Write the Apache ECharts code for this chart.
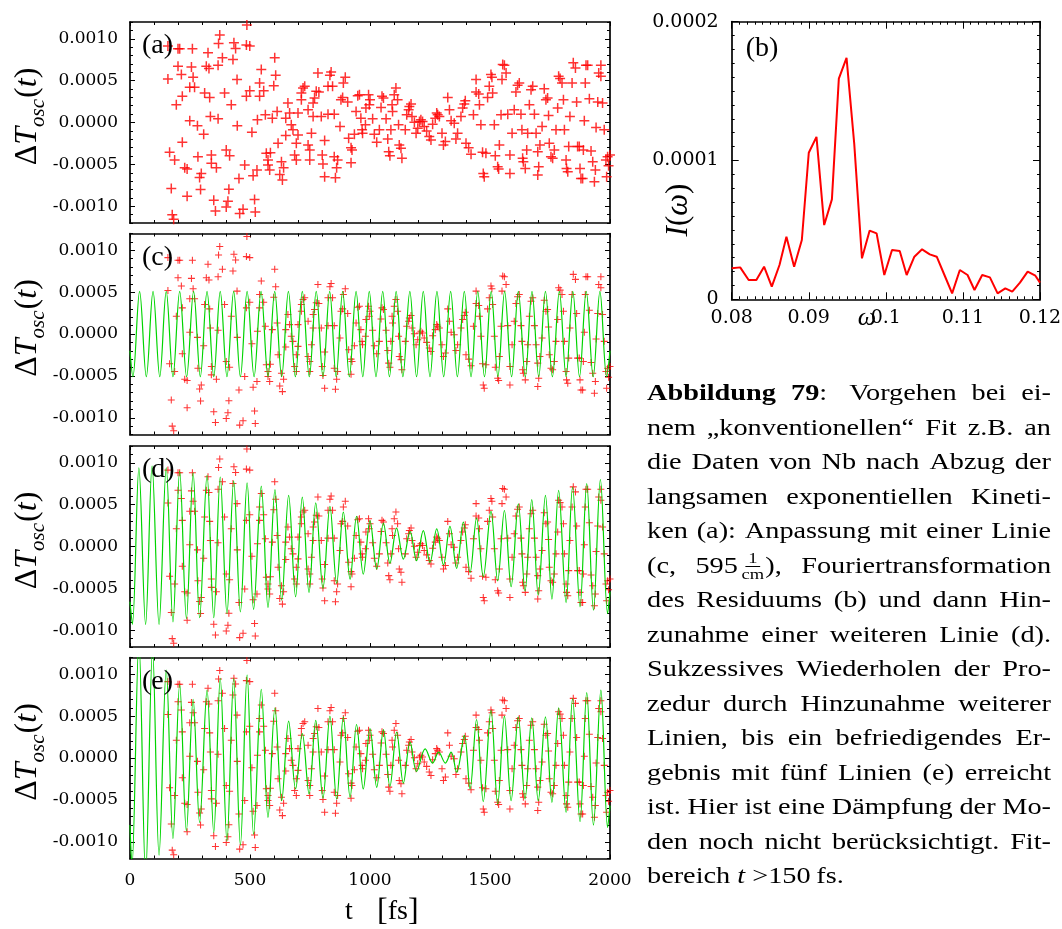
<!DOCTYPE html>
<html><head><meta charset="utf-8">
<script src="https://cdn.jsdelivr.net/npm/echarts@6/dist/echarts.min.js"></script>
<style>
html,body{margin:0;padding:0;background:#fff;}
#chart{position:absolute;left:0;top:0;width:1062px;height:929px;}
#caption{position:absolute;left:647px;top:376px;width:328.5px;font-family:'Liberation Serif','Times New Roman',serif;font-size:23px;color:#000;transform:scaleX(1.23);transform-origin:0 0;}
#caption .ln{display:flex;justify-content:space-between;align-items:baseline;height:34.5px;line-height:34.5px;white-space:nowrap;}
#caption .last{height:34.5px;line-height:34.5px;white-space:nowrap;}
.fr{display:inline-flex;flex-direction:column;align-items:center;font-size:15px;line-height:13px;vertical-align:middle;margin:0 1px 0 3px;position:relative;top:-1px;}
.fr .n{border-bottom:1.4px solid #000;padding:0 2px 1px 2px;}
.fr .d{padding-top:1px;}
</style>
</head><body>
<div id="chart"></div>
<div id="caption"></div>
<script>
// ---------- data ----------
// measured points Delta T_osc(t): [t (fs), value]
const points = [
[487,11.64e-4],[374,10.44e-4],[369,9.44e-4],[433,9.52e-4],[440,8.84e-4],[485,9.24e-4],[499,9.12e-4],[158,9.12e-4],[200,8.8e-4],[207,8.8e-4],
[260,8.8e-4],[325,8.32e-4],[385,7.72e-4],[429,7.52e-4],[603,7.72e-4],[200,6.72e-4],[256,6.64e-4],[318,6.72e-4],[329,6.44e-4],[367,6.84e-4],
[214,5.72e-4],[263,5.4e-4],[158,5.2e-4],[446,5.12e-4],[547,6.32e-4],[607,5.64e-4],[540,4.72e-4],[599,4.4e-4],[557,3.8e-4],[499,3.8e-4],
[249,4.2e-4],[269,4.2e-4],[311,3.52e-4],[332,3.0e-4],[218,3.12e-4],[394,3.52e-4],[485,3.12e-4],[540,3.12e-4],[193,2.12e-4],[422,2.12e-4],
[658,2.32e-4],[721,4.12e-4],[728,4.32e-4],[714,3.52e-4],[714,2.72e-4],[769,2.92e-4],[763,2.32e-4],[776,3.72e-4],[787,3.64e-4],[783,5.92e-4],
[825,4.32e-4],[335,0.72e-4],[367,0.44e-4],[249,0.2e-4],[531,0.32e-4],[564,0.92e-4],[593,0.52e-4],[613,1.32e-4],[649,0.52e-4],[665,1.12e-4],
[700,1.12e-4],[742,1.52e-4],[763,0.72e-4],[797,0.72e-4],[825,1.0e-4],[281,-0.4e-4],[307,-1.4e-4],[447,-0.4e-4],[508,-1.16e-4],[672,-0.28e-4],
[679,-0.88e-4],[649,-1.56e-4],[700,-1.48e-4],[756,-1.28e-4],[811,-2.16e-4],[218,-2.36e-4],[617,-2.48e-4],[693,-2.48e-4],[742,-2.68e-4],[749,-3.28e-4],
[165,-3.56e-4],[186,-4.48e-4],[283,-4.08e-4],[339,-3.88e-4],[401,-3.28e-4],[415,-3.96e-4],[568,-3.68e-4],[585,-3.6e-4],[575,-4.48e-4],[575,-5.08e-4],
[631,-4.68e-4],[686,-3.88e-4],[693,-4.48e-4],[749,-4.48e-4],[801,-3.88e-4],[804,-4.96e-4],[478,-5.08e-4],[228,-5.4e-4],[238,-5.56e-4],[297,-6.08e-4],
[290,-6.56e-4],[360,-5.4e-4],[339,-4.88e-4],[454,-6.68e-4],[513,-6.36e-4],[529,-5.68e-4],[582,-5.68e-4],[624,-6.2e-4],[635,-6.88e-4],[640,-5.4e-4],
[811,-6.48e-4],[172,-7.88e-4],[238,-8.8e-4],[294,-8.0e-4],[412,-7.96e-4],[349,-9.28e-4],[356,-10.56e-4],[408,-9.4e-4],[401,-10.08e-4],[519,-9.2e-4],
[471,-10.36e-4],[457,-10.88e-4],[522,-10.68e-4],[176,-11.0e-4],[182,-11.56e-4],
[838,6.04e-4],[833,5.64e-4],[844,4.32e-4],[851,1.0e-4],[875,-0.48e-4],[851,-4.08e-4],[865,-4.48e-4],[861,-5.4e-4],[856,-6.6e-4],[897,5.4e-4],
[889,4.72e-4],[886,3.0e-4],[879,2.72e-4],[907,2.44e-4],[911,-1.88e-4],[921,-3.0e-4],[925,-3.28e-4],[921,-4.8e-4],[935,-1.4e-4],[942,1.32e-4],
[949,3.2e-4],[956,3.32e-4],[962,0.52e-4],[967,-0.88e-4],[969,-1.28e-4],[981,-0.28e-4],[983,1.72e-4],[994,3.32e-4],[1000,2.72e-4],[997,2.12e-4],
[1011,0.44e-4],[1018,-1.4e-4],[1028,-2.36e-4],[1039,-0.88e-4],[1046,1.8e-4],[1050,3.12e-4],[1056,2.92e-4],[1067,0.44e-4],[1074,-1.96e-4],[1078,-3.48e-4],
[1083,-3.96e-4],[1087,-0.88e-4],[1094,1.32e-4],[1092,2.12e-4],[1101,3.32e-4],[1108,4.12e-4],[1115,2.72e-4],[1119,-0.28e-4],[1122,-2.68e-4],[1129,-3.08e-4],
[1133,-4.28e-4],[1147,-0.88e-4],[1153,0.92e-4],[1161,1.52e-4],[1164,1.92e-4],[1171,2.2e-4],[1175,0.72e-4],[1185,0.04e-4],[1192,-1.28e-4],[1199,-0.68e-4],
[1206,0.12e-4],[1212,0.32e-4],[1219,0.12e-4],[1226,-0.48e-4],[1236,-1.0e-4],[1247,-1.68e-4],[1254,-2.08e-4],[1261,-0.2e-4],[1272,0.52e-4],[1278,1.12e-4],
[1282,0.92e-4],[1289,0.72e-4],[1300,-1.28e-4],[1306,-2.68e-4],[1314,-2.28e-4],[1324,3.0e-4],[1331,1.52e-4],[1338,0.2e-4],[1351,-0.08e-4],[1358,-1.96e-4],
[1365,-1.28e-4],[1379,0.72e-4],[1386,1.72e-4],[1393,2.2e-4],[1397,2.6e-4],[1400,-2.48e-4],[1411,-3.0e-4],[1421,-3.8e-4],[1431,0.92e-4],[1442,5.12e-4],
[1442,3.64e-4],[1453,3.4e-4],[1456,2.12e-4],[1462,-0.28e-4],[1469,-3.56e-4],[1483,-3.68e-4],[1472,-6.08e-4],[1476,-6.48e-4],[1490,3.0e-4],[1497,4.32e-4],
[1504,5.72e-4],[1508,5.4e-4],[1511,3.52e-4],[1518,-0.28e-4],[1522,-3.96e-4],[1532,-5.28e-4],[1536,-5.56e-4],[1539,-2.68e-4],[1546,0.92e-4],[1550,5.12e-4],
[1553,6.92e-4],[1560,6.84e-4],[1567,5.92e-4],[1574,1.0e-4],[1583,-3.88e-4],[1583,-6.08e-4],[1592,-1.28e-4],[1601,1.52e-4],[1608,3.64e-4],[1615,4.44e-4],
[1622,4.72e-4],[1629,1.0e-4],[1633,-0.88e-4],[1636,-4.28e-4],[1639,-4.68e-4],[1647,-5.48e-4],[1653,-3.28e-4],[1657,-1.28e-4],[1664,2.12e-4],[1671,3.92e-4],
[1678,4.32e-4],[1685,1.0e-4],[1692,-1.28e-4],[1699,-3.48e-4],[1703,-5.28e-4],[1699,-6.28e-4],[1708,-2.68e-4],[1717,-0.48e-4],[1726,4.04e-4],[1733,2.72e-4],
[1740,2.92e-4],[1744,0.84e-4],[1747,-2.48e-4],[1754,-4.08e-4],[1761,-4.28e-4],[1768,-3.28e-4],[1775,-0.88e-4],[1782,1.72e-4],[1786,5.52e-4],[1792,5.24e-4],
[1800,4.72e-4],[1806,2.72e-4],[1810,-0.88e-4],[1817,-4.48e-4],[1819,-5.48e-4],[1824,-5.88e-4],[1828,-2.88e-4],[1833,0.72e-4],[1842,4.72e-4],[1847,7.12e-4],
[1856,6.52e-4],[1861,2.44e-4],[1865,-2.88e-4],[1872,-2.88e-4],[1875,-5.48e-4],[1879,-6.68e-4],[1886,-6.68e-4],[1889,-3.28e-4],[1893,0.2e-4],[1897,4.72e-4],
[1900,6.84e-4],[1907,6.84e-4],[1914,2.84e-4],[1921,-3.4e-4],[1928,-4.68e-4],[1935,-7.08e-4],[1939,-5.68e-4],[1942,-0.6e-4],[1949,2.44e-4],[1953,5.92e-4],
[1962,5.52e-4],[1962,6.84e-4],[1969,2.32e-4],[1976,-0.88e-4],[1983,-4.48e-4],[1990,-4.08e-4],[1986,-6.48e-4],[1994,-5.16e-4],[2000,-3.88e-4]
];

// fit curves, given by their turning points [t, value]
const fitC = [
[0,-2.0e-4],[12,-5.1e-4],[40,5.1e-4],[68,-5.1e-4],[96,5.1e-4],[124,-5.1e-4],[151,5.1e-4],[179,-5.1e-4],[207,5.1e-4],[236,-5.1e-4],
[265,5.1e-4],[293,-5.1e-4],[321,5.1e-4],[349,-5.1e-4],[376,5.1e-4],[404,-5.1e-4],[432,5.1e-4],[460,-5.1e-4],[488,5.1e-4],[517,-5.1e-4],
[546,5.1e-4],[575,-5.1e-4],[603,5.1e-4],[632,-5.1e-4],[660,5.1e-4],[689,-5.1e-4],[718,5.1e-4],[747,-5.1e-4],[776,5.1e-4],[804,-5.1e-4],
[832,5.1e-4],[859,-5.1e-4],[886,5.1e-4],[914,-5.1e-4],[942,5.1e-4],[970,-5.1e-4],[997,5.1e-4],[1025,-5.1e-4],[1053,5.1e-4],[1081,-5.1e-4],
[1109,5.1e-4],[1137,-5.1e-4],[1166,5.1e-4],[1194,-5.1e-4],[1222,5.1e-4],[1250,-5.1e-4],[1279,5.1e-4],[1307,-5.1e-4],[1336,5.1e-4],[1364,-5.1e-4],
[1393,5.1e-4],[1421,-5.1e-4],[1449,5.1e-4],[1477,-5.1e-4],[1505,5.1e-4],[1533,-5.1e-4],[1561,5.1e-4],[1590,-5.1e-4],[1618,5.1e-4],[1647,-5.1e-4],
[1675,5.1e-4],[1703,-5.1e-4],[1731,5.1e-4],[1760,-5.1e-4],[1789,5.1e-4],[1817,-5.1e-4],[1845,5.1e-4],[1873,-5.1e-4],[1901,5.1e-4],[1930,-5.1e-4],
[1958,5.1e-4],[1986,-5.1e-4],[2000,-2.0e-4]
];
const fitD = [
[0,-6.6e-4],[10,-9.3e-4],[37,9.4e-4],[65,-9.3e-4],[92,9.6e-4],[121,-9.3e-4],[151,9.4e-4],[179,-9.0e-4],[207,9.0e-4],[235,-8.6e-4],
[263,8.8e-4],[290,-8.5e-4],[321,8.5e-4],[349,-8.5e-4],[376,8.3e-4],[404,-8.0e-4],[432,7.8e-4],[460,-7.8e-4],[488,7.6e-4],[515,-7.5e-4],
[547,7.2e-4],[575,-7.3e-4],[604,6.8e-4],[632,-6.4e-4],[661,6.1e-4],[690,-6.0e-4],[718,5.9e-4],[746,-5.5e-4],[774,5.2e-4],[804,-5.0e-4],
[833,4.8e-4],[861,-4.4e-4],[889,4.1e-4],[917,-3.9e-4],[944,3.6e-4],[972,-3.3e-4],[1000,3.1e-4],[1028,-2.7e-4],[1056,2.8e-4],[1083,-2.0e-4],
[1111,2.2e-4],[1139,-1.5e-4],[1167,1.8e-4],[1194,-1.7e-4],[1222,1.9e-4],[1250,-1.9e-4],[1278,2.1e-4],[1306,-2.2e-4],[1333,2.4e-4],[1361,-2.6e-4],
[1389,2.9e-4],[1417,-3.1e-4],[1444,3.4e-4],[1472,-3.6e-4],[1504,4.2e-4],[1532,-4.1e-4],[1560,4.3e-4],[1588,-4.8e-4],[1618,5.1e-4],[1646,-5.3e-4],
[1674,5.6e-4],[1701,-5.8e-4],[1731,6.1e-4],[1758,-6.3e-4],[1786,6.7e-4],[1817,-6.7e-4],[1844,7.1e-4],[1875,-7.2e-4],[1903,7.5e-4],[1931,-7.6e-4],
[1960,8.0e-4],[1990,-8.0e-4],[2000,-5.4e-4]
];
const fitE = [
[0,-8.0e-4],[8,-13.0e-4],[37,14.0e-4],[65,-14.0e-4],[94,13.0e-4],[121,-11.6e-4],[151,10.5e-4],[179,-9.6e-4],[207,8.8e-4],[235,-8.7e-4],
[263,7.0e-4],[290,-7.7e-4],[321,8.1e-4],[349,-8.9e-4],[376,9.5e-4],[404,-9.9e-4],[432,9.5e-4],[460,-10.4e-4],[488,9.9e-4],[515,-9.1e-4],
[547,8.2e-4],[575,-7.1e-4],[604,6.0e-4],[632,-5.1e-4],[661,4.4e-4],[690,-3.7e-4],[718,2.9e-4],[746,-4.3e-4],[774,4.5e-4],[804,-4.8e-4],
[833,5.0e-4],[861,-4.9e-4],[889,4.9e-4],[917,-4.7e-4],[944,4.0e-4],[972,-3.7e-4],[1000,3.5e-4],[1028,-3.5e-4],[1056,3.4e-4],[1083,-3.4e-4],
[1111,3.1e-4],[1139,-3.0e-4],[1167,1.9e-4],[1194,-1.6e-4],[1230,1.1e-4],[1261,-0.6e-4],[1286,0.7e-4],[1314,-0.6e-4],[1338,0.7e-4],[1361,-1.7e-4],
[1393,2.7e-4],[1417,-3.7e-4],[1444,4.6e-4],[1472,-5.2e-4],[1504,5.7e-4],[1532,-5.5e-4],[1560,5.0e-4],[1588,-5.1e-4],[1618,4.9e-4],[1646,-4.9e-4],
[1674,4.8e-4],[1701,-5.1e-4],[1731,4.9e-4],[1758,-5.3e-4],[1786,6.0e-4],[1817,-6.5e-4],[1844,7.1e-4],[1875,-7.6e-4],[1903,7.8e-4],[1931,-8.0e-4],
[1962,8.1e-4],[1990,-8.3e-4],[2000,-5.7e-4]
];

// Fourier spectrum of the residual, panel (b)
const bOmega = [0.0800,0.0811,0.0822,0.0832,0.0842,0.0852,0.0862,0.0871,0.0881,0.0891,0.0900,0.0910,0.0920,0.0930,0.0939,0.0949,0.0959,0.0969,0.0979,0.0988,
0.0998,0.1008,0.1018,0.1027,0.1037,0.1047,0.1057,0.1066,0.1076,0.1086,0.1096,0.1106,0.1115,0.1125,0.1135,0.1145,0.1155,0.1164,0.1174,0.1184,0.1194,0.1200];
const bIntensity = [2.23e-5,2.3e-5,1.39e-5,1.39e-5,2.35e-5,0.91e-5,2.47e-5,4.5e-5,2.35e-5,4.27e-5,10.56e-5,11.7e-5,5.35e-5,7.2e-5,15.9e-5,17.4e-5,11.2e-5,2.95e-5,4.95e-5,4.75e-5,
1.75e-5,3.55e-5,3.48e-5,1.75e-5,3.07e-5,3.6e-5,3.24e-5,3.07e-5,1.75e-5,0.43e-5,2.11e-5,1.75e-5,0.67e-5,1.75e-5,1.58e-5,0.43e-5,0.79e-5,0.55e-5,1.2e-5,1.99e-5,1.7e-5,1.2e-5];

// tick labels
const tTicks = [0, 500, 1000, 1500, 2000];
const dTTicks = [-0.0010, -0.0005, 0, 0.0005, 0.0010];
const omegaTicks = [0.08, 0.09, 0.10, 0.11, 0.12];
const iTicks = [0, 0.0001, 0.0002];
const panelLabels = ['(a)', '(c)', '(d)', '(e)'];

// ---------- layout ----------
const leftGrids = [
  {left: 130, top: 22, width: 480, height: 201},
  {left: 130, top: 233.5, width: 480, height: 201},
  {left: 130, top: 446, width: 480, height: 201},
  {left: 130, top: 657.5, width: 480, height: 201}
];
const bGrid = {left: 731.7, top: 21.7, width: 308.3, height: 277.6};

const TICKFONT = 'DejaVu Serif';
const SERIF = 'Liberation Serif';
const RED = '#ff0000', GREEN = '#00d400';
const PLUS = 'path://M0,4.25H10V5.75H0ZM4.25,0H5.75V10H4.25Z';

const xAxes = [], yAxes = [];
function ax(gi, min, max, pos, opt) {
  return Object.assign({
    gridIndex: gi, type: 'value', min: min, max: max, position: pos,
    axisLine: {show: false, onZero: false},
    axisTick: {show: true, inside: true, length: 3, lineStyle: {color: '#000', width: 1}},
    axisLabel: {show: false},
    splitLine: {show: false}
  }, opt);
}
function frame(gi, xr, yr, xStep, yStep, xMaj, yMaj, xMajLen, yMajLen, minLen, xLab, yLab) {
  const line = {show: true, onZero: false, lineStyle: {color: '#000', width: 1.7}};
  const xi = xAxes.length;
  ['bottom', 'top'].forEach(function (p, k) {
    xAxes.push(ax(gi, xr[0], xr[1], p, {interval: xStep, axisLine: line,
      axisTick: {show: true, inside: true, length: minLen, lineStyle: {color: '#000', width: 1}},
      axisLabel: (k === 0 && xLab) ? xLab : {show: false}}));
    xAxes.push(ax(gi, xr[0], xr[1], p, {
      axisTick: {show: true, inside: true, length: xMajLen, customValues: xMaj, lineStyle: {color: '#000', width: 1}}}));
  });
  const yi = yAxes.length;
  ['left', 'right'].forEach(function (p, k) {
    yAxes.push(ax(gi, yr[0], yr[1], p, {interval: yStep, axisLine: line,
      axisTick: {show: true, inside: true, length: minLen, lineStyle: {color: '#000', width: 1}},
      axisLabel: (k === 0 && yLab) ? yLab : {show: false}}));
    yAxes.push(ax(gi, yr[0], yr[1], p, {
      axisTick: {show: true, inside: true, length: yMajLen, customValues: yMaj, lineStyle: {color: '#000', width: 1}}}));
  });
  return {xi: xi, yi: yi};
}

const series = [];
const graphics = [];
const fits = [null, fitC, fitD, fitE];

leftGrids.forEach(function (g, gi) {
  const xLab = gi === 3 ? {show: true, customValues: tTicks, margin: 14, color: '#000',
      fontFamily: TICKFONT, fontSize: 17, formatter: function (v) { return String(v); }} : null;
  const yLab = {show: true, customValues: dTTicks, margin: 12, color: '#000',
      fontFamily: TICKFONT, fontSize: 17, formatter: function (v) { return v.toFixed(4); }};
  const idx = frame(gi, [0, 2000], [-0.0012, 0.0012], 100, 0.0001, tTicks, dTTicks, 4, 5, 3, xLab, yLab);
  series.push({
    type: 'scatter', xAxisIndex: idx.xi, yAxisIndex: idx.yi, data: points,
    symbol: PLUS, symbolSize: gi === 0 ? 10 : 7, itemStyle: {color: RED}, z: 2, silent: true
  });
  if (fits[gi]) {
    series.push({
      type: 'line', xAxisIndex: idx.xi, yAxisIndex: idx.yi, data: fits[gi],
      showSymbol: false, smooth: 0.36, clip: true,
      lineStyle: {color: GREEN, width: 1.2}, z: 3, silent: true
    });
  }
  graphics.push({type: 'text', x: g.left + 12, y: g.top + 24, z: 10,
    style: {text: panelLabels[gi], font: '28px "' + SERIF + '"', fill: '#000', align: 'left', verticalAlign: 'middle'}});
  graphics.push({type: 'text', x: 28, y: g.top + g.height / 2 - 6, rotation: Math.PI / 2, z: 10,
    style: {text: '{n|Δ}{i|T}{s|osc}{n|(}{i|t}{n|)}', align: 'center', verticalAlign: 'middle', fill: '#000',
      rich: {
        n: {fontFamily: SERIF, fontSize: 32, fill: '#000'},
        i: {fontFamily: SERIF, fontStyle: 'italic', fontSize: 32, fill: '#000'},
        s: {fontFamily: SERIF, fontStyle: 'italic', fontSize: 21, fill: '#000', padding: [20, 1, 0, 0]}
      }}});
});

// panel (b)
const bIdx = frame(4, [0.08, 0.12], [0, 0.0002], 0.001, 0.00001, omegaTicks, iTicks, 7, 7, 3,
  {show: true, customValues: omegaTicks, margin: 9, color: '#000', fontFamily: TICKFONT, fontSize: 19,
   formatter: function (v) { return String(+v.toFixed(2)); }},
  {show: true, customValues: iTicks, margin: 13, color: '#000', fontFamily: TICKFONT, fontSize: 19,
   formatter: function (v) { return v === 0 ? '0' : v.toFixed(4); }});
series.push({
  type: 'line', xAxisIndex: bIdx.xi, yAxisIndex: bIdx.yi,
  data: bOmega.map(function (w, i) { return [w, bIntensity[i]]; }),
  showSymbol: false, clip: true, lineStyle: {color: RED, width: 2}, z: 3, silent: true
});
graphics.push({type: 'text', x: bGrid.left + 14, y: bGrid.top + 27, z: 10,
  style: {text: '(b)', font: '28px "' + SERIF + '"', fill: '#000', align: 'left', verticalAlign: 'middle'}});
graphics.push({type: 'text', x: 679, y: 210, rotation: Math.PI / 2, z: 10,
  style: {text: '{i|I}{n|(}{i|ω}{n|)}', align: 'center', verticalAlign: 'middle', fill: '#000',
    rich: {n: {fontFamily: SERIF, fontSize: 31, fill: '#000'},
           i: {fontFamily: SERIF, fontStyle: 'italic', fontSize: 31, fill: '#000'}}}});
graphics.push({type: 'text', x: 867, y: 318, z: 10,
  style: {text: 'ω', font: 'italic 26px "' + SERIF + '"', fill: '#000', align: 'center', verticalAlign: 'middle'}});
// x axis title of the left column
graphics.push({type: 'text', x: 349, y: 912, z: 10,
  style: {text: 't', font: '28px "' + SERIF + '"', fill: '#000', align: 'center', verticalAlign: 'middle'}});
graphics.push({type: 'text', x: 377, y: 912, z: 10,
  style: {text: '{b|[}{n|fs}{b|]}', align: 'left', verticalAlign: 'middle', fill: '#000',
    rich: {b: {fontFamily: SERIF, fontSize: 32, fill: '#000'}, n: {fontFamily: SERIF, fontSize: 28, fill: '#000'}}}});

const grids = leftGrids.concat([bGrid]).map(function (g) {
  return Object.assign({containLabel: false, outerBoundsMode: 'none'}, g);
});

const chart = echarts.init(document.getElementById('chart'), null, {renderer: 'canvas'});
chart.setOption({
  animation: false,
  backgroundColor: '#fff',
  grid: grids,
  xAxis: xAxes,
  yAxis: yAxes,
  series: series,
  graphic: graphics
});

// ---------- caption ----------
const FRAC = '<span class="fr"><span class="n">1</span><span class="d">cm</span></span>';
const captionLines = [
  ['<b>Abbildung</b>', '<b>79</b>:&nbsp;', 'Vorgehen', 'bei', 'ei-'],
  ['nem', '„konventionellen“', 'Fit', 'z.B.', 'an'],
  ['die', 'Daten', 'von', 'Nb', 'nach', 'Abzug', 'der'],
  ['langsamen', 'exponentiellen', 'Kineti-'],
  ['ken', '(a):', 'Anpassung', 'mit', 'einer', 'Linie'],
  ['(c,', '595' + FRAC + '),', 'Fouriertransformation'],
  ['des', 'Residuums', '(b)', 'und', 'dann', 'Hin-'],
  ['zunahme', 'einer', 'weiteren', 'Linie', '(d).'],
  ['Sukzessives', 'Wiederholen', 'der', 'Pro-'],
  ['zedur', 'durch', 'Hinzunahme', 'weiterer'],
  ['Linien,', 'bis', 'ein', 'befriedigendes', 'Er-'],
  ['gebnis', 'mit', 'fünf', 'Linien', '(e)', 'erreicht'],
  ['ist.', 'Hier', 'ist', 'eine', 'Dämpfung', 'der', 'Mo-'],
  ['den', 'noch', 'nicht', 'berücksichtigt.', 'Fit-']
];
const captionLast = 'bereich <i>t</i>&nbsp;&gt;150&thinsp;fs.';
const cap = document.getElementById('caption');
captionLines.forEach(function (words) {
  const d = document.createElement('div');
  d.className = 'ln';
  d.innerHTML = words.map(function (w) { return '<span>' + w + '</span>'; }).join('');
  cap.appendChild(d);
});
const last = document.createElement('div');
last.className = 'last';
last.innerHTML = captionLast;
cap.appendChild(last);
</script>
</body></html>
